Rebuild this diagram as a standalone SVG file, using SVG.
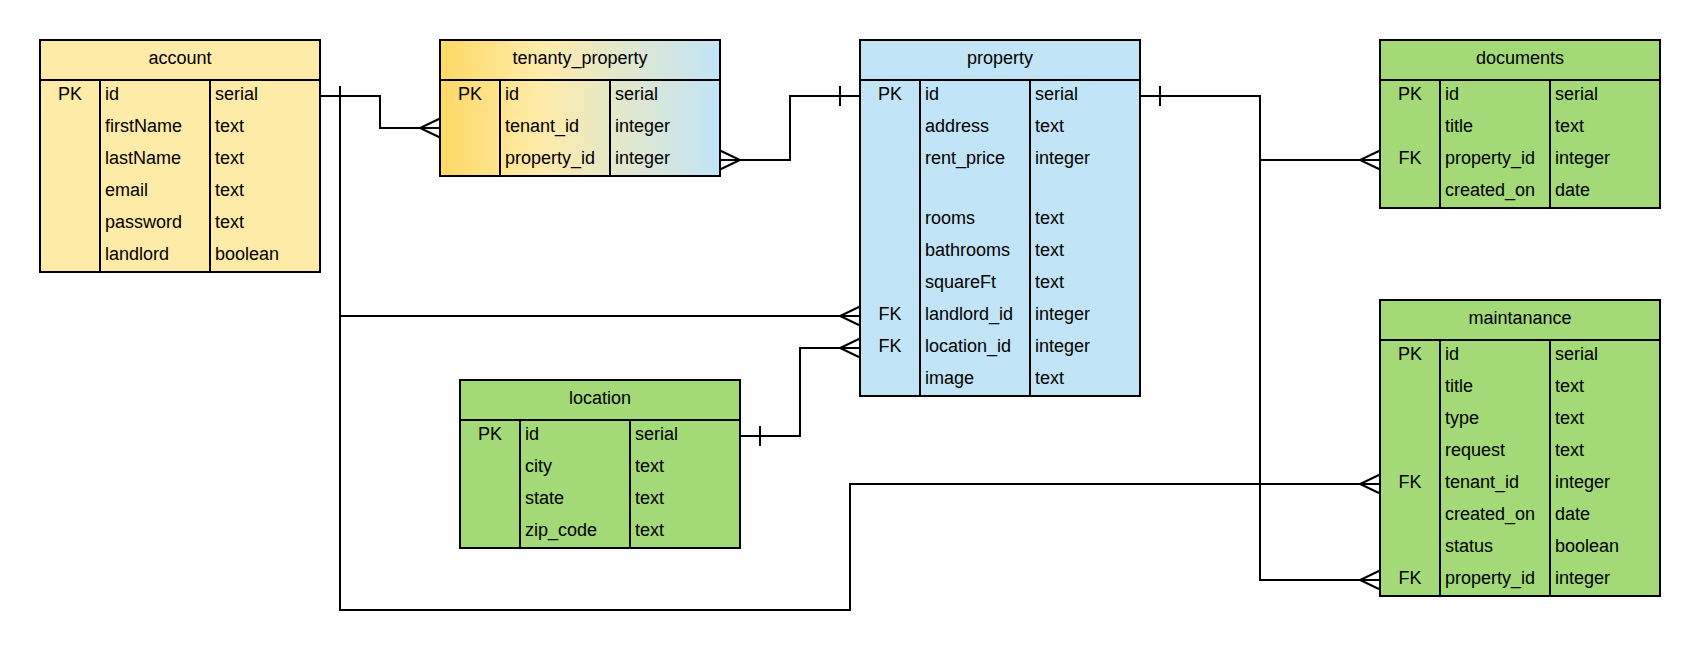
<svg xmlns="http://www.w3.org/2000/svg" width="1700" height="650" viewBox="0 0 1700 650">
<style>
.box{stroke:#000;stroke-width:2}
.ln{stroke:#000;stroke-width:2;fill:none}
.yel{fill:#FFEBA8}
.blu{fill:#C1E4F7}
.grn{fill:#A3D977}
.grad{fill:url(#tg)}
text{font-family:"Liberation Sans",Arial,sans-serif;font-size:18px;fill:#000}
.c{text-anchor:middle}
</style>
<defs>
<linearGradient id="tg" x1="0" y1="0" x2="1" y2="0">
<stop offset="0" stop-color="#FFD966"/>
<stop offset="0.35" stop-color="#FFEBA8"/>
<stop offset="1" stop-color="#C1E4F7"/>
</linearGradient>
</defs>
<rect width="1700" height="650" fill="#fff"/>

<g id="connectors">
<path class="ln" d="M320,96 H380 V128 H440"/>
<path class="ln" d="M440,118.5 L420,128 L440,137.5"/>
<path class="ln" d="M320,96 H340 V316 H860"/>
<path class="ln" d="M860,306.5 L840,316 L860,325.5"/>
<path class="ln" d="M340,316 V610 H850 V484 H1380"/>
<path class="ln" d="M1380,474.5 L1360,484 L1380,493.5"/>
<path class="ln" d="M340,86 V106"/>
<path class="ln" d="M720,160 H790 V96 H860"/>
<path class="ln" d="M720,150.5 L740,160 L720,169.5"/>
<path class="ln" d="M840,86 V106"/>
<path class="ln" d="M740,436 H800 V348 H860"/>
<path class="ln" d="M860,338.5 L840,348 L860,357.5"/>
<path class="ln" d="M760,426 V446"/>
<path class="ln" d="M1140,96 H1260 V160 H1380"/>
<path class="ln" d="M1380,150.5 L1360,160 L1380,169.5"/>
<path class="ln" d="M1260,160 V580 H1380"/>
<path class="ln" d="M1380,570.5 L1360,580 L1380,589.5"/>
<path class="ln" d="M1160,86 V106"/>
</g>

<g id="account">
<rect class="box yel" x="40" y="40" width="280" height="232"/>
<path class="ln" d="M40,80 H320 M100,80 V272 M210,80 V272"/>
<text class="c" x="180" y="64">account</text>
<text class="c" x="70" y="100">PK</text>
<text x="105" y="100">id</text><text x="215" y="100">serial</text>
<text x="105" y="132">firstName</text><text x="215" y="132">text</text>
<text x="105" y="164">lastName</text><text x="215" y="164">text</text>
<text x="105" y="196">email</text><text x="215" y="196">text</text>
<text x="105" y="228">password</text><text x="215" y="228">text</text>
<text x="105" y="260">landlord</text><text x="215" y="260">boolean</text>
</g>

<g id="tenanty_property">
<rect class="box grad" x="440" y="40" width="280" height="136"/>
<path class="ln" d="M440,80 H720 M500,80 V176 M610,80 V176"/>
<text class="c" x="580" y="64">tenanty_property</text>
<text class="c" x="470" y="100">PK</text>
<text x="505" y="100">id</text><text x="615" y="100">serial</text>
<text x="505" y="132">tenant_id</text><text x="615" y="132">integer</text>
<text x="505" y="164">property_id</text><text x="615" y="164">integer</text>
</g>

<g id="property">
<rect class="box blu" x="860" y="40" width="280" height="356"/>
<path class="ln" d="M860,80 H1140 M920,80 V396 M1030,80 V396"/>
<text class="c" x="1000" y="64">property</text>
<text class="c" x="890" y="100">PK</text>
<text x="925" y="100">id</text><text x="1035" y="100">serial</text>
<text x="925" y="132">address</text><text x="1035" y="132">text</text>
<text x="925" y="164">rent_price</text><text x="1035" y="164">integer</text>
<text x="925" y="224">rooms</text><text x="1035" y="224">text</text>
<text x="925" y="256">bathrooms</text><text x="1035" y="256">text</text>
<text x="925" y="288">squareFt</text><text x="1035" y="288">text</text>
<text class="c" x="890" y="320">FK</text>
<text x="925" y="320">landlord_id</text><text x="1035" y="320">integer</text>
<text class="c" x="890" y="352">FK</text>
<text x="925" y="352">location_id</text><text x="1035" y="352">integer</text>
<text x="925" y="384">image</text><text x="1035" y="384">text</text>
</g>

<g id="location">
<rect class="box grn" x="460" y="380" width="280" height="168"/>
<path class="ln" d="M460,420 H740 M520,420 V548 M630,420 V548"/>
<text class="c" x="600" y="404">location</text>
<text class="c" x="490" y="440">PK</text>
<text x="525" y="440">id</text><text x="635" y="440">serial</text>
<text x="525" y="472">city</text><text x="635" y="472">text</text>
<text x="525" y="504">state</text><text x="635" y="504">text</text>
<text x="525" y="536">zip_code</text><text x="635" y="536">text</text>
</g>

<g id="documents">
<rect class="box grn" x="1380" y="40" width="280" height="168"/>
<path class="ln" d="M1380,80 H1660 M1440,80 V208 M1550,80 V208"/>
<text class="c" x="1520" y="64">documents</text>
<text class="c" x="1410" y="100">PK</text>
<text x="1445" y="100">id</text><text x="1555" y="100">serial</text>
<text x="1445" y="132">title</text><text x="1555" y="132">text</text>
<text class="c" x="1410" y="164">FK</text>
<text x="1445" y="164">property_id</text><text x="1555" y="164">integer</text>
<text x="1445" y="196">created_on</text><text x="1555" y="196">date</text>
</g>

<g id="maintanance">
<rect class="box grn" x="1380" y="300" width="280" height="296"/>
<path class="ln" d="M1380,340 H1660 M1440,340 V596 M1550,340 V596"/>
<text class="c" x="1520" y="324">maintanance</text>
<text class="c" x="1410" y="360">PK</text>
<text x="1445" y="360">id</text><text x="1555" y="360">serial</text>
<text x="1445" y="392">title</text><text x="1555" y="392">text</text>
<text x="1445" y="424">type</text><text x="1555" y="424">text</text>
<text x="1445" y="456">request</text><text x="1555" y="456">text</text>
<text class="c" x="1410" y="488">FK</text>
<text x="1445" y="488">tenant_id</text><text x="1555" y="488">integer</text>
<text x="1445" y="520">created_on</text><text x="1555" y="520">date</text>
<text x="1445" y="552">status</text><text x="1555" y="552">boolean</text>
<text class="c" x="1410" y="584">FK</text>
<text x="1445" y="584">property_id</text><text x="1555" y="584">integer</text>
</g>
</svg>
